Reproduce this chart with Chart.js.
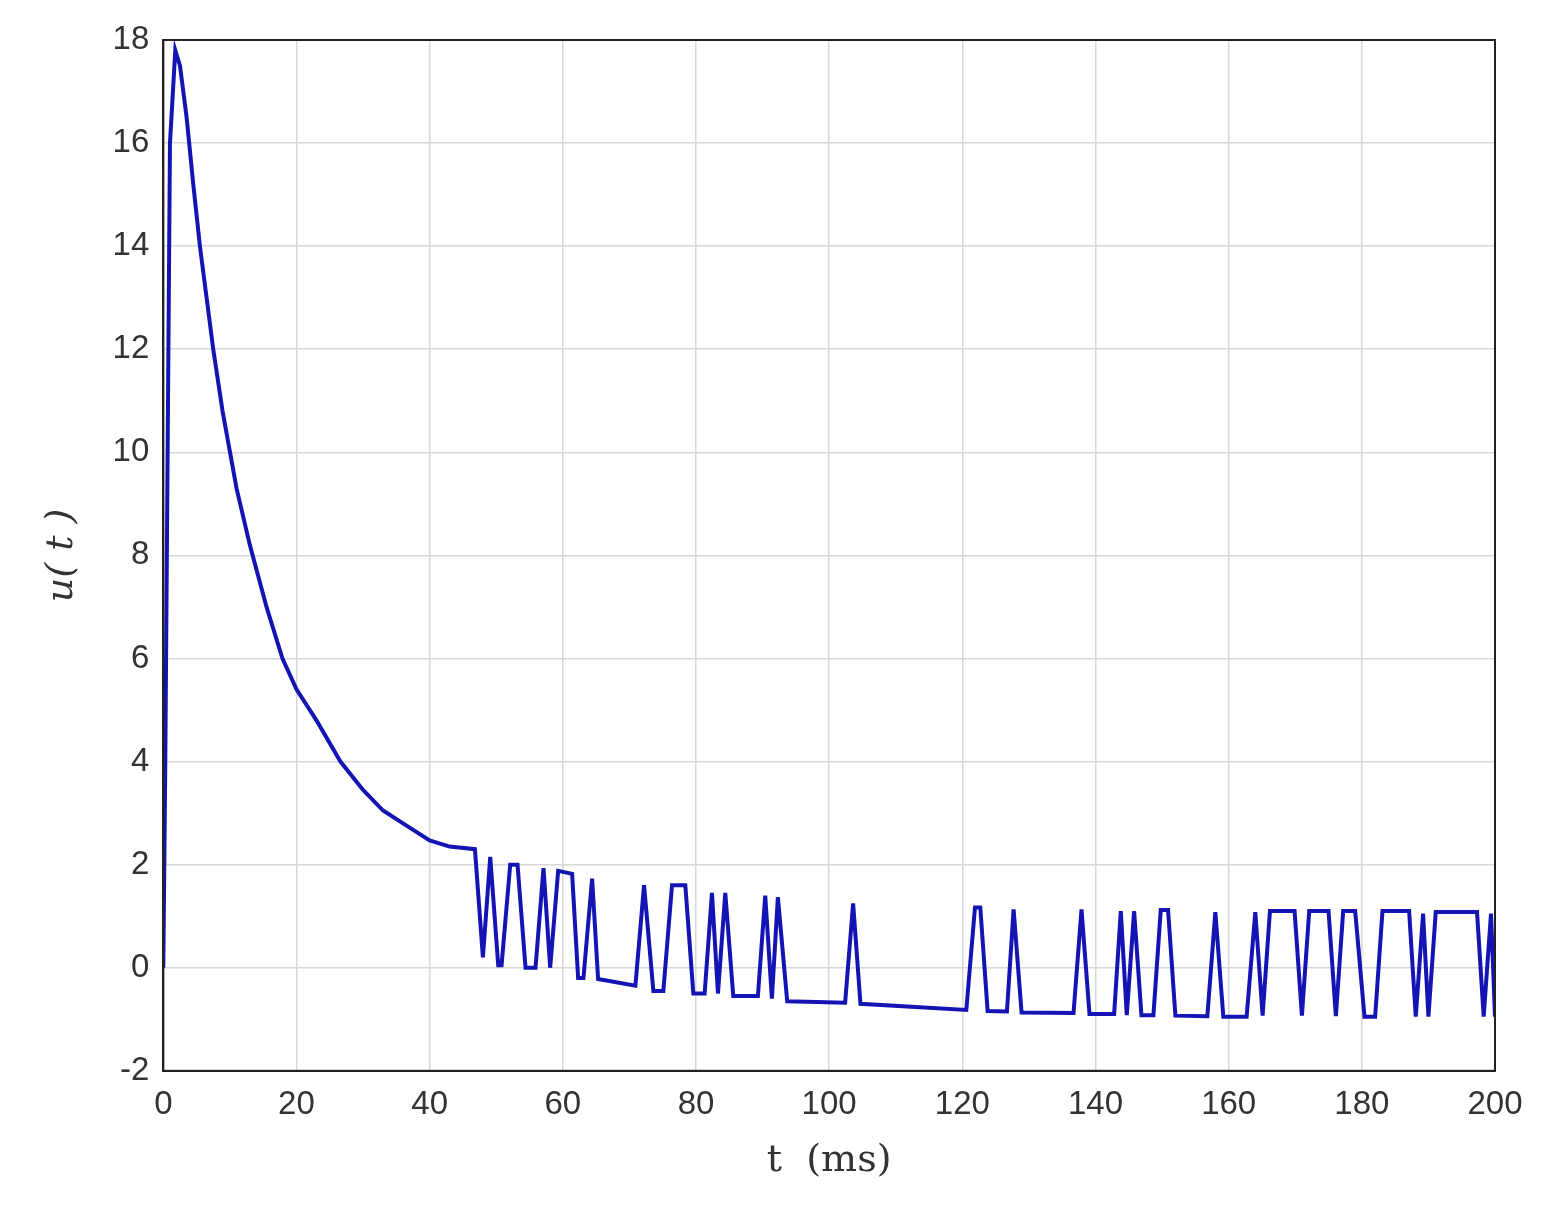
<!DOCTYPE html>
<html><head><meta charset="utf-8">
<script src="https://cdn.jsdelivr.net/npm/chart.js@4/dist/chart.umd.min.js"></script>
<style>html,body{margin:0;background:#fff}#w{width:1542px;height:1222px}</style>
</head><body><div id="w"><canvas id="c"></canvas></div>
<script>
const tVals=[0,0.3,1.0,1.8,2.5,3.5,4.5,5.5,6.5,7.5,8.9,11,13,15.5,17.9,20,23,26.6,30,33,36,40,43,46.8,
48.0,49.1,50.3,50.8,52.1,53.2,54.4,55.9,57.1,58.1,59.3,61.4,62.3,63.1,64.4,65.3,70.9,72.2,73.6,75.1,76.4,78.4,79.6,81.3,82.4,83.3,84.4,85.6,89.3,90.4,91.4,92.3,93.7,102.4,103.6,104.7,120.6,
121.9,122.7,123.8,126.7,127.7,128.9,136.7,137.9,139.1,142.8,143.8,144.7,145.8,146.9,148.7,149.8,150.9,152.0,156.8,158.0,159.2,162.7,164.0,165.1,166.2,169.9,171.0,172.1,175.0,176.1,177.2,179.0,180.4,182.0,183.1,187.1,188.1,189.2,190.0,191.1,197.3,198.3,199.4,200];
const uVals=[0,4,16,17.8,17.5,16.5,15.2,14,13,12,10.8,9.3,8.2,7,6,5.4,4.8,4,3.45,3.05,2.8,2.47,2.35,2.3,
0.2,2.15,0.05,0.05,2.0,2.0,0,0,1.93,0,1.88,1.82,-0.2,-0.2,1.73,-0.22,-0.35,1.6,-0.45,-0.45,1.6,1.6,-0.5,-0.5,1.45,-0.5,1.45,-0.55,-0.55,1.4,-0.6,1.37,-0.65,-0.68,1.25,-0.7,-0.82,
1.17,1.17,-0.84,-0.85,1.13,-0.87,-0.88,1.13,-0.9,-0.9,1.1,-0.92,1.1,-0.92,-0.92,1.12,1.12,-0.93,-0.94,1.08,-0.95,-0.95,1.08,-0.93,1.1,1.1,-0.93,1.1,1.1,-0.94,1.1,1.1,-0.95,-0.95,1.1,1.1,-0.95,1.05,-0.95,1.08,1.08,-0.95,1.05,-0.95];
const xTicks=[0,20,40,60,80,100,120,140,160,180,200];
const yTicks=[-2,0,2,4,6,8,10,12,14,16,18];
const box={id:'box',afterDraw(ch){const a=ch.chartArea,x=ch.ctx;x.save();x.strokeStyle='#222';x.lineWidth=2;x.strokeRect(a.left,a.top,a.right-a.left,a.bottom-a.top);x.restore();}};
new Chart(document.getElementById('c'),{type:'line',
data:{datasets:[{data:tVals.map((t,i)=>({x:t,y:uVals[i]})),borderColor:'#1414b4',borderWidth:4,pointRadius:0,tension:0}]},
options:{responsive:true,maintainAspectRatio:false,animation:false,
layout:{padding:{left:35,right:47,top:40,bottom:34}},
plugins:{legend:{display:false},tooltip:{enabled:false}},
scales:{
x:{type:'linear',min:0,max:200,afterBuildTicks:s=>{s.ticks=xTicks.map(v=>({value:v}));},
grid:{color:'#d8d8d8',lineWidth:1.5,drawTicks:false},border:{color:'#222',width:2},
ticks:{color:'#333',font:{size:33,family:'Liberation Sans'},padding:14},
title:{display:true,text:'t  (ms)',color:'#333',font:{size:38,family:'DejaVu Serif'},padding:{top:0}}},
y:{min:-2,max:18,afterBuildTicks:s=>{s.ticks=yTicks.map(v=>({value:v}));},
grid:{color:'#d8d8d8',lineWidth:1.5,drawTicks:false},border:{color:'#222',width:2},
ticks:{color:'#333',font:{size:33,family:'Liberation Sans'},padding:14},
title:{display:true,text:'u( t )',color:'#333',font:{size:38,family:'DejaVu Serif',style:'italic'},padding:{bottom:14}}}
}},plugins:[box]});
</script></body></html>
